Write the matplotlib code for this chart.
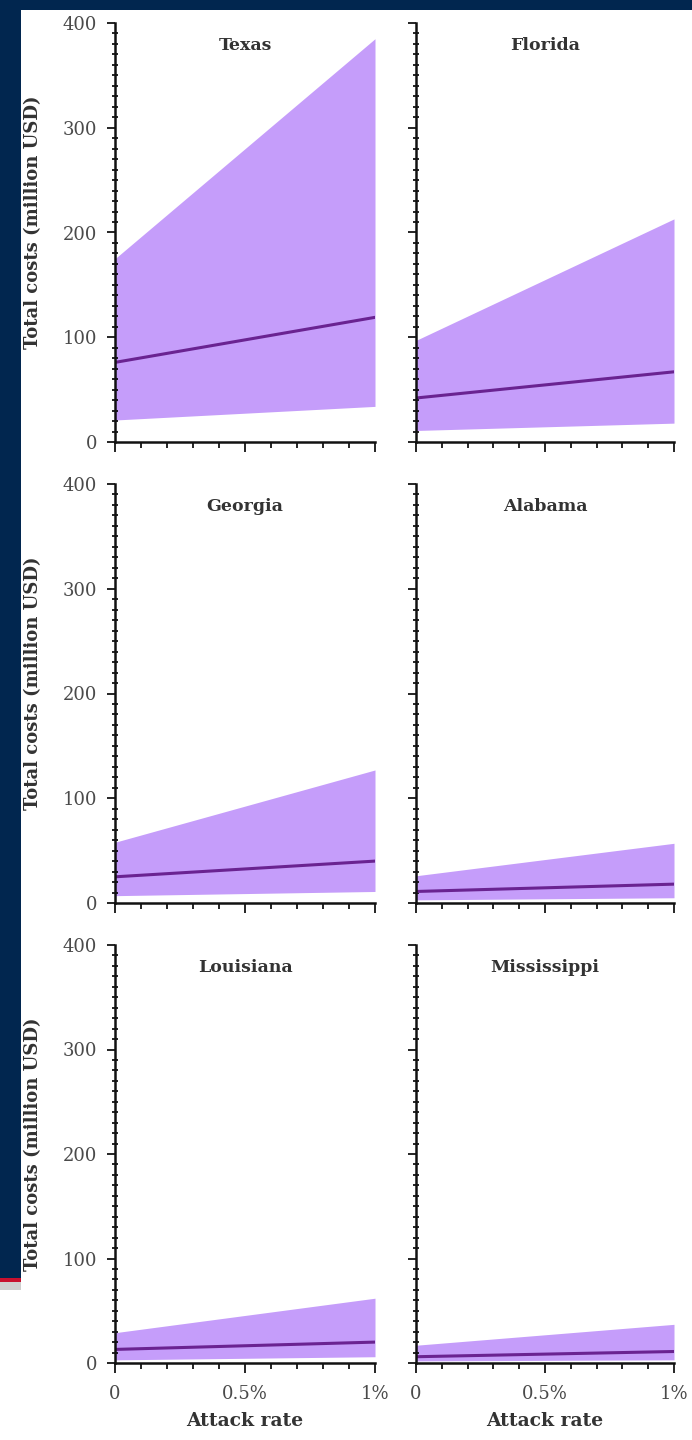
import numpy as np
import matplotlib.pyplot as plt
from matplotlib.ticker import MultipleLocator, FixedLocator, FixedFormatter
from matplotlib.patches import Rectangle

## data (attack rate in %, costs in million USD)
states = ["Texas", "Florida", "Georgia", "Alabama", "Louisiana", "Mississippi"]
attack_rate = [0.0, 1.0]
median_cost = {
    "Texas": [76, 119],
    "Florida": [42, 67],
    "Georgia": [25, 40],
    "Alabama": [11, 18],
    "Louisiana": [13, 20],
    "Mississippi": [6, 11],
}
lower_cost = {
    "Texas": [21, 34],
    "Florida": [11, 18],
    "Georgia": [7, 11],
    "Alabama": [3, 5],
    "Louisiana": [3, 6],
    "Mississippi": [2, 3],
}
upper_cost = {
    "Texas": [175, 385],
    "Florida": [97, 213],
    "Georgia": [58, 127],
    "Alabama": [26, 57],
    "Louisiana": [29, 62],
    "Mississippi": [17, 37],
}
xtick_pos = [0, 0.5, 1]
xtick_lab = ["0", "0.5%", "1%"]

W, H = 692, 1440
navy = "#01264f"
band = "#c59dfa"
line = "#6a2391"
serif = ["DejaVu Serif"]

fig = plt.figure(figsize=(W / 100, H / 100), dpi=100, facecolor=navy)

# white slide area (slide frame: navy top strip and left strip)
def frame_rect(x, y, w, h, col, z):
    fig.patches.append(Rectangle((x / W, 1 - (y + h) / H), w / W, h / H,
                                 transform=fig.transFigure, facecolor=col,
                                 edgecolor="none", zorder=z))

frame_rect(21, 10, W - 21, H - 10, "white", -3)
frame_rect(0, 1279, 21, H - 1279, "white", -3)
frame_rect(0, 1278, 21, 4, "#c8102e", -2)
frame_rect(0, 1282, 21, 8, "#cfcfcf", -2)

cols = [(115, 375), (416, 674)]
rows = [(23, 442), (484, 903), (945, 1363)]

for i, st in enumerate(states):
    r, c = divmod(i, 2)
    x0, x1 = cols[c]
    yt, yb = rows[r]
    ax = fig.add_axes([x0 / W, 1 - yb / H, (x1 - x0) / W, (yb - yt) / H])
    ax.set_facecolor("none")

    ax.fill_between(attack_rate, lower_cost[st], upper_cost[st],
                    color=band, lw=0, zorder=1)
    ax.plot(attack_rate, median_cost[st], color=line, lw=2.2, zorder=2)

    ax.set_xlim(0, 1)
    ax.set_ylim(0, 400)
    for s in ["top", "right"]:
        ax.spines[s].set_visible(False)
    for s in ["left", "bottom"]:
        ax.spines[s].set_linewidth(1.8)
        ax.spines[s].set_color("#111111")

    ax.yaxis.set_major_locator(MultipleLocator(100))
    ax.yaxis.set_minor_locator(MultipleLocator(10))
    ax.xaxis.set_major_locator(FixedLocator(xtick_pos))
    ax.xaxis.set_major_formatter(FixedFormatter(xtick_lab))
    ax.xaxis.set_minor_locator(MultipleLocator(0.1))

    ax.tick_params(axis="y", which="major", direction="out", length=6,
                   width=1.2, pad=7, labelsize=13, labelcolor="#4a4a4a")
    ax.tick_params(axis="y", which="minor", direction="inout", length=4,
                   width=1.2)
    ax.tick_params(axis="x", which="major", direction="out", length=7,
                   width=1.2, pad=9, labelsize=13, labelcolor="#4a4a4a")
    ax.tick_params(axis="x", which="minor", direction="out", length=4,
                   width=1.2)
    for lab in ax.get_xticklabels() + ax.get_yticklabels():
        lab.set_family(serif)

    if c == 1:
        ax.tick_params(axis="y", labelleft=False)
    if r < 2:
        ax.tick_params(axis="x", labelbottom=False)
    else:
        ax.set_xlabel("Attack rate", fontsize=13.5, fontweight="bold",
                      family=serif, color="#333333", labelpad=6)

    ax.text(0.5, 0.946, st, transform=ax.transAxes, ha="center", va="center",
            fontsize=12.5, fontweight="semibold", family=serif, color="#333333")

    if c == 0:
        fig.text(33 / W, 1 - (yt + yb - 20) / 2 / H, "Total costs (million USD)",
                 rotation=90, ha="center", va="center", fontsize=13,
                 fontweight="bold", family=serif, color="#333333")

fig.savefig("out.png", dpi=100, facecolor=navy)
